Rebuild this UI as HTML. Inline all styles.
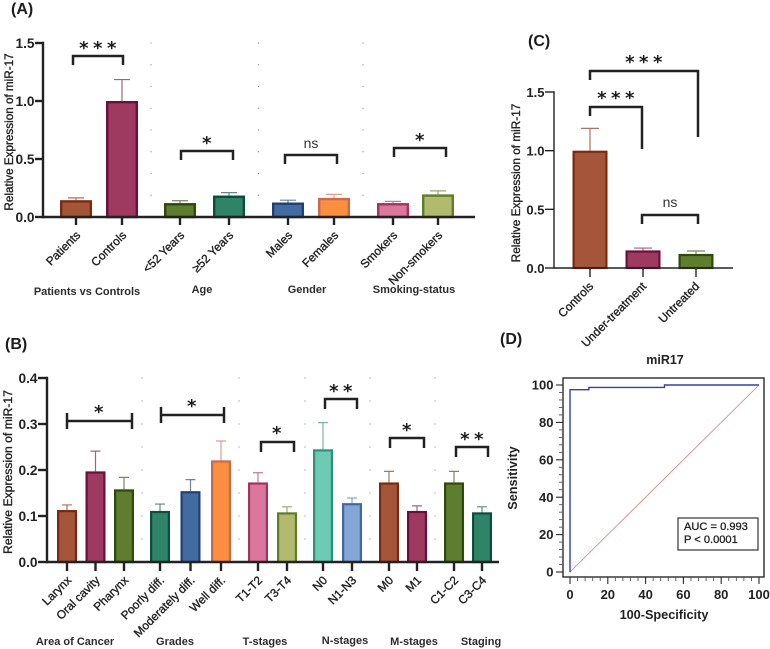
<!DOCTYPE html>
<html lang="en">
<head>
<meta charset="utf-8">
<title>miR-17 relative expression and ROC</title>
<style>
html,body{margin:0;padding:0;background:#fff;}
body{width:770px;height:649px;overflow:hidden;}
svg{display:block;filter:blur(.35px);}
text{font-family:"Liberation Sans",Arial,sans-serif;fill:#222;}
.panel{font-weight:700;font-size:16px;fill:#1c1c1c;}
.group{font-weight:700;font-size:11px;text-anchor:middle;fill:#2c2c2c;}
.star{font-family:"DejaVu Sans",sans-serif;font-weight:700;font-size:18px;text-anchor:middle;letter-spacing:4.5px;fill:#1c1c1c;}
.ns{font-size:14px;text-anchor:middle;fill:#333;}
.brk{fill:none;stroke:#222;stroke-width:2.5;}
</style>
</head>
<body>
<svg id="figure" xmlns="http://www.w3.org/2000/svg" width="770" height="649" viewBox="0 0 770 649">
  <rect width="770" height="649" fill="#fff"/>

  <text class="panel" x="11" y="14">(A)</text>
  <text class="panel" x="5" y="349">(B)</text>
  <text class="panel" x="528" y="46">(C)</text>
  <text class="panel" x="500" y="344">(D)</text>

  <text transform="translate(13,132) rotate(-90)" text-anchor="middle" font-size="11.7" stroke="#222" stroke-width=".35">Relative Expression of miR-17</text>
  <text transform="translate(12,472) rotate(-90)" text-anchor="middle" font-size="12.2" stroke="#222" stroke-width=".35">Relative Expression of miR-17</text>
  <text transform="translate(520,183) rotate(-90)" text-anchor="middle" font-size="11.8" stroke="#222" stroke-width=".35">Relative Expression of miR-17</text>

  <g>
    <text class="group" x="87" y="295">Patients vs Controls</text>
    <text class="group" x="202" y="293">Age</text>
    <text class="group" x="307" y="293">Gender</text>
    <text class="group" x="414" y="293">Smoking-status</text>
  </g>
  <g>
    <text class="group" x="75" y="645">Area of Cancer</text>
    <text class="group" x="175" y="645">Grades</text>
    <text class="group" x="265" y="645">T-stages</text>
    <text class="group" x="345" y="644">N-stages</text>
    <text class="group" x="414" y="645">M-stages</text>
    <text class="group" x="481" y="645">Staging</text>
  </g>

  <g id="plots"></g>

  <g>
    <path class="brk" d="M73 65V56H123V65"/>
    <text class="star" x="100" y="54">***</text>
    <path class="brk" d="M181 160V151H233V160"/>
    <text class="star" x="209" y="149">*</text>
    <path class="brk" d="M285 164V155H337V164"/>
    <text class="ns" x="311" y="148">ns</text>
    <path class="brk" d="M394 157V148H446V157"/>
    <text class="star" x="422" y="146">*</text>
  </g>
  <g>
    <path class="brk" d="M590 80V71H698V137"/>
    <text class="star" x="646" y="68">***</text>
    <path class="brk" d="M590 116V107H642V149"/>
    <text class="star" x="618" y="104">***</text>
    <path class="brk" d="M642 224V215H698V224"/>
    <text class="ns" x="670" y="207">ns</text>
  </g>
  <g>
    <path class="brk" d="M67 413V429M67 421H132M132 413V429"/>
    <text class="star" x="101" y="418">*</text>
    <path class="brk" d="M161 407V423M161 415H224M224 407V423"/>
    <text class="star" x="194" y="412">*</text>
    <path class="brk" d="M261 452V442H294V452"/>
    <text class="star" x="279" y="439">*</text>
    <path class="brk" d="M325 409V399H357V409"/>
    <text class="star" x="343" y="397">**</text>
    <path class="brk" d="M390 448V438H424V448"/>
    <text class="star" x="409" y="436">*</text>
    <path class="brk" d="M456 457V447H488V457"/>
    <text class="star" x="474" y="445">**</text>
  </g>

  <text x="665" y="364" text-anchor="middle" font-size="12.5" font-weight="700" fill="#222">miR17</text>
  <text x="664" y="619" text-anchor="middle" font-size="12.7" font-weight="700">100-Specificity</text>
  <text transform="translate(517,478) rotate(-90)" text-anchor="middle" font-size="12.7" font-weight="700">Sensitivity</text>
  <g>
    <rect x="678" y="518" width="80" height="32" fill="#fff" stroke="#333" stroke-width="1.2"/>
    <text x="684" y="530" font-size="11.1" stroke="#222" stroke-width=".3">AUC = 0.993</text>
    <text x="684" y="543" font-size="11.1" stroke="#222" stroke-width=".3">P &lt; 0.0001</text>
  </g>
</svg>

<script>
// Panel A data
const panelACategories = ['Patients','Controls','<52 Years','≥52 Years','Males','Females','Smokers','Non-smokers'];
const panelAGroupSizes = [2,2,2,2];
const panelAValues = [0.145,1.0,0.12,0.185,0.125,0.165,0.12,0.195];
const panelAErrorTops = [0.165,1.185,0.14,0.21,0.145,0.195,0.135,0.225];
const panelATicks = [0,0.5,1,1.5];
const panelATickLabels = ['0.0','0.5','1.0','1.5'];
const panelAFills = ['#a5563a','#9e3a60','#5f7d2e','#2f8468','#426ba3','#fb8f3f','#d9789b','#b2ba6e'];
const panelAStrokes = ['#7a2a10','#6b0f3c','#2e4a0a','#0d4d3c','#1f4070','#c96a50','#a8325f','#5e7d28'];

// Panel B data
const panelBCategories = ['Larynx','Oral cavity','Pharynx','Poorly diff.','Moderately diff.','Well diff.','T1-T2','T3-T4','N0','N1-N3','M0','M1','C1-C2','C3-C4'];
const panelBGroupSizes = [3,3,2,2,2,2];
const panelBValues = [0.113,0.197,0.158,0.111,0.154,0.221,0.173,0.108,0.245,0.128,0.173,0.111,0.173,0.108];
const panelBErrorTops = [0.124,0.241,0.184,0.126,0.179,0.263,0.194,0.12,0.303,0.139,0.197,0.122,0.197,0.12];
const panelBTicks = [0,0.1,0.2,0.3,0.4];
const panelBTickLabels = ['0.0','0.1','0.2','0.3','0.4'];
const panelBFills = ['#a5563a','#9e3a60','#5f7d2e','#2f8468','#426ba3','#fb8f3f','#d9789b','#b2ba6e','#6dcbb3','#84a6d6','#a5563a','#9e3a60','#5f7d2e','#2f8468'];
const panelBStrokes = ['#7a2a10','#6b0f3c','#2e4a0a','#0d4d3c','#1f4070','#c96a50','#a8325f','#5e7d28','#2f9075','#3f68a8','#7a2a10','#6b0f3c','#2e4a0a','#0d4d3c'];

// Panel C data
const panelCCategories = ['Controls','Under-treatment','Untreated'];
const panelCGroupSizes = [3];
const panelCValues = [1.0,0.15,0.12];
const panelCErrorTops = [1.19,0.17,0.145];
const panelCTicks = [0,0.5,1,1.5];
const panelCTickLabels = ['0.0','0.5','1.0','1.5'];
const panelCFills = ['#a5563a','#9e3a60','#5f7d2e'];
const panelCStrokes = ['#7a2a10','#6b0f3c','#2e4a0a'];

// Panel D data (ROC)
const rocFalsePositive = [0,0,10,10,50,50,100];
const rocSensitivity = [0,97.5,97.5,98.7,98.7,100,100];
const rocReferenceX = [0,100];
const rocReferenceY = [0,100];
const rocTicks = [0,20,40,60,80,100];
const rocMinorTicks = [4,8,12,16,24,28,32,36,44,48,52,56,64,68,72,76,84,88,92,96];

const SVGNS = 'http://www.w3.org/2000/svg';
const plots = document.getElementById('plots');

function add(parent, tag, attrs, text) {
  const node = document.createElementNS(SVGNS, tag);
  for (const k in attrs) node.setAttribute(k, attrs[k]);
  if (text !== undefined) node.textContent = text;
  parent.appendChild(node);
  return node;
}
function slug(s) {
  return String(s).toLowerCase().replace(/≥/g, 'over-').replace(/</g, 'under-').replace(/[^a-z0-9]+/g, '-').replace(/^-|-$/g, '');
}

function drawBarPanel(cfg) {
  const panel = add(plots, 'g', {});
  
  

  const yScale = v => cfg.y0 - (v / cfg.yMax) * (cfg.y0 - cfg.yTop);
  const slotX = [];
  cfg.groups.forEach((n, g) => {
    for (let i = 0; i < n; i++) slotX.push(cfg.groupStart[g] + cfg.groupStep[g] * i);
  });
  const xScale = i => slotX[i];

  // faint dotted guides between groups
  const dots = add(panel, 'g', {});
  
  
  cfg.guides.forEach(gx => {
    for (let k = 0; k < 8; k++) {
      const gy = cfg.yTop + k * (cfg.y0 - cfg.yTop) / 8;
      const dot = add(dots, 'circle', {cx: gx, cy: gy, r: 0.6, fill: '#8a8a8a'});
      
      
    }
  });

  // bars and error bars
  cfg.categories.forEach((cat, i) => {
    const cx = xScale(i);
    const top = yScale(cfg.values[i]);
    const errTop = yScale(cfg.errors[i]);
    const err = add(panel, 'path', {
      d: 'M' + cx + ' ' + top + 'V' + errTop + 'M' + (cx - cfg.cap / 2) + ' ' + errTop + 'H' + (cx + cfg.cap / 2),
      fill: 'none', stroke: cfg.strokes[i], 'stroke-width': 1.2, 'stroke-opacity': 0.65
    });
    
    
    const sw = cfg.barStroke;
    const bar = add(panel, 'rect', {
      x: cx - cfg.barWidth / 2 + sw / 2, y: top + sw / 2,
      width: cfg.barWidth - sw, height: Math.max(0, cfg.y0 - top - sw / 2),
      fill: cfg.fills[i], stroke: cfg.strokes[i], 'stroke-width': sw
    });
    
    
  });

  // y axis
  const yAxisLine = add(panel, 'line', {x1: cfg.axisX, x2: cfg.axisX, y1: cfg.yTop - cfg.axisWidth / 2, y2: cfg.y0 + cfg.axisWidth / 2, stroke: '#222', 'stroke-width': cfg.axisWidth});
  
  
  cfg.ticks.forEach((t, i) => {
    const ty = yScale(t);
    const mark = add(panel, 'line', {x1: cfg.axisX - cfg.tickLen, x2: cfg.axisX, y1: ty, y2: ty, stroke: '#222', 'stroke-width': cfg.axisWidth});
    
    
    const label = add(panel, 'text', {x: cfg.axisX - cfg.tickLen - 0.5, y: ty + 5, 'text-anchor': 'end', 'font-size': cfg.tickFont, 'font-weight': 700}, cfg.tickLabels[i]);
    
    
  });

  // x axis
  const xAxisLine = add(panel, 'line', {x1: cfg.axisX, x2: cfg.axisEnd, y1: cfg.y0, y2: cfg.y0, stroke: '#222', 'stroke-width': cfg.axisWidth});
  
  
  cfg.categories.forEach((cat, i) => {
    const cx = xScale(i);
    const mark = add(panel, 'line', {x1: cx, x2: cx, y1: cfg.y0, y2: cfg.y0 + cfg.tickLen, stroke: '#222', 'stroke-width': cfg.axisWidth});
    
    
    const lx = cx + cfg.labelDx;
    const ly = cfg.y0 + cfg.labelDy;
    const label = add(panel, 'text', {
      transform: 'translate(' + lx + ',' + ly + ') rotate(-45)',
      'text-anchor': 'end', 'font-size': 11.8, stroke: '#222', 'stroke-width': 0.35
    }, cat);
    
    
  });
}

drawBarPanel({
  id: 'a', categories: panelACategories, groups: panelAGroupSizes, values: panelAValues, errors: panelAErrorTops,
  ticks: panelATicks, tickLabels: panelATickLabels, fills: panelAFills, strokes: panelAStrokes,
  groupStart: [76, 180, 288, 393], groupStep: [46, 49, 46, 45],
  yMax: 1.5, yTop: 43, y0: 217, barWidth: 32, barStroke: 2.4, cap: 16,
  axisX: 43, axisEnd: 475, axisWidth: 2.4, tickLen: 8, tickFont: 13.7, labelDx: 5, labelDy: 19, guides: [151, 258.5, 363]
});
drawBarPanel({
  id: 'b', categories: panelBCategories, groups: panelBGroupSizes, values: panelBValues, errors: panelBErrorTops,
  ticks: panelBTicks, tickLabels: panelBTickLabels, fills: panelBFills, strokes: panelBStrokes,
  groupStart: [67, 160, 258, 323, 389, 454], groupStep: [28.5, 30.5, 29, 29, 28, 28],
  yMax: 0.4, yTop: 378, y0: 562, barWidth: 20, barStroke: 2.2, cap: 10,
  axisX: 47, axisEnd: 499, axisWidth: 2.4, tickLen: 9, tickFont: 13.7, labelDx: 5, labelDy: 19, guides: [142, 239, 305, 370, 435]
});
drawBarPanel({
  id: 'c', categories: panelCCategories, groups: panelCGroupSizes, values: panelCValues, errors: panelCErrorTops,
  ticks: panelCTicks, tickLabels: panelCTickLabels, fills: panelCFills, strokes: panelCStrokes,
  groupStart: [590], groupStep: [53],
  yMax: 1.5, yTop: 92, y0: 268, barWidth: 35, barStroke: 2.2, cap: 18,
  axisX: 554, axisEnd: 733, axisWidth: 1.4, tickLen: 9, tickFont: 13, labelDx: 4, labelDy: 19, guides: []
});

// ROC panel
(function drawRoc() {
  const left = 563, right = 764, top = 378, bottom = 577;
  const rx = v => 570 + (v / 100) * (759 - 570);
  const ry = v => 572 - (v / 100) * (572 - 385);
  const roc = add(plots, 'g', {});
  
  

  const frame = add(roc, 'rect', {x: left, y: top, width: right - left, height: bottom - top, fill: '#fff', stroke: '#2a2a2a', 'stroke-width': 1.4});
  
  

  const reference = add(roc, 'polyline', {
    points: rocReferenceX.map((v, i) => rx(v) + ',' + ry(rocReferenceY[i])).join(' '),
    fill: 'none', stroke: '#d47a7a', 'stroke-width': 0.8
  });
  
  

  const curve = add(roc, 'polyline', {
    points: rocFalsePositive.map((v, i) => rx(v) + ',' + ry(rocSensitivity[i])).join(' '),
    fill: 'none', stroke: '#3240ad', 'stroke-width': 1.4
  });
  
  

  rocMinorTicks.forEach(v => {
    const mx = add(roc, 'line', {x1: rx(v), x2: rx(v), y1: bottom, y2: bottom + 4, stroke: '#555', 'stroke-width': 0.9});
    
    
    const my = add(roc, 'line', {x1: left - 4, x2: left, y1: ry(v), y2: ry(v), stroke: '#555', 'stroke-width': 0.9});
    
    
  });
  rocTicks.forEach(v => {
    const tx = add(roc, 'line', {x1: rx(v), x2: rx(v), y1: bottom, y2: bottom + 7, stroke: '#2a2a2a', 'stroke-width': 1.1});
    
    
    const ty = add(roc, 'line', {x1: left - 7, x2: left, y1: ry(v), y2: ry(v), stroke: '#2a2a2a', 'stroke-width': 1.1});
    
    
    const lx = add(roc, 'text', {x: rx(v), y: 599, 'text-anchor': 'middle', 'font-size': 13, 'font-weight': 700}, String(v));
    
    
    const ly = add(roc, 'text', {x: 553.5, y: ry(v) + 4.6, 'text-anchor': 'end', 'font-size': 13, 'font-weight': 700}, String(v));
    
    
  });
})();
</script>
</body>
</html>
